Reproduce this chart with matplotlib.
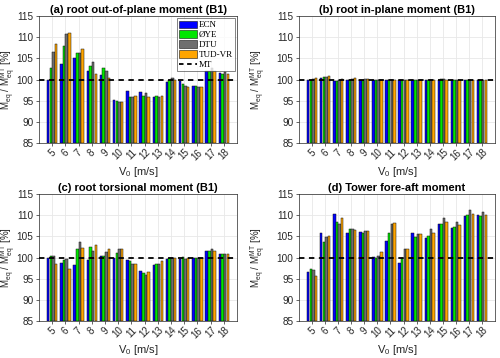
import matplotlib
matplotlib.use("Agg")
import matplotlib.pyplot as plt
import numpy as np
from matplotlib.lines import Line2D
from matplotlib.patches import Patch

plt.rcParams['font.family'] = ['Liberation Sans', 'DejaVu Sans']
plt.rcParams['mathtext.fontset'] = 'custom'
plt.rcParams['mathtext.rm'] = 'Liberation Sans'

wind_speeds = [5, 6, 7, 8, 9, 10, 11, 12, 13, 14, 15, 16, 17, 18]
codes = ['ECN', 'ØYE', 'DTU', 'TUD-VR']
colors = ['#0000ff', '#00e600', '#6e6e6e', '#ffa500']

oop_ecn = [100.0, 103.6, 105.0, 102.0, 101.0, 95.2, 97.3, 97.1, 95.8, 99.4, 99.6, 98.4, 102.0, 101.5]
oop_oye = [102.6, 107.8, 106.3, 103.2, 102.6, 94.9, 95.8, 96.0, 96.0, 100.0, 99.0, 98.4, 102.1, 101.4]
oop_dtu = [106.4, 110.7, 106.3, 104.2, 101.9, 94.6, 95.8, 96.8, 95.9, 100.3, 98.5, 98.3, 102.6, 101.7]
oop_tud = [108.5, 110.9, 107.2, 101.4, 100.3, 94.8, 96.0, 95.9, 96.2, 99.8, 98.2, 98.2, 102.0, 101.3]

ip_ecn = [99.9, 100.3, 99.6, 100.0, 100.0, 100.0, 99.9, 99.9, 99.8, 99.9, 100.0, 99.9, 99.9, 99.9]
ip_oye = [100.0, 100.5, 99.7, 100.0, 100.0, 100.0, 99.9, 99.9, 99.8, 99.8, 100.1, 99.9, 99.9, 99.9]
ip_dtu = [100.1, 100.5, 100.0, 100.1, 100.2, 100.0, 100.0, 99.9, 99.9, 99.9, 100.1, 99.9, 100.0, 100.0]
ip_tud = [100.3, 100.8, 100.2, 100.3, 100.2, 100.0, 100.0, 99.9, 99.8, 99.8, 100.0, 99.9, 99.9, 99.9]

tor_ecn = [100.0, 98.8, 98.3, 99.5, 100.3, 100.0, 99.5, 96.7, 98.2, 99.6, 99.7, 99.8, 101.6, 100.9]
tor_oye = [100.4, 99.5, 102.0, 102.5, 100.3, 101.0, 99.1, 96.3, 98.4, 99.9, 100.1, 99.9, 101.6, 100.9]
tor_dtu = [100.4, 99.6, 103.7, 101.6, 101.4, 102.0, 98.4, 95.9, 98.4, 99.9, 99.6, 100.0, 101.9, 100.9]
tor_tud = [98.5, 97.3, 102.3, 102.9, 102.1, 102.0, 98.5, 96.6, 99.1, 99.8, 99.8, 99.8, 101.6, 100.9]

tow_ecn = [96.6, 105.7, 110.2, 105.9, 106.0, 100.1, 103.8, 98.8, 105.7, 104.7, 107.8, 107.0, 109.7, 110.0]
tow_oye = [97.2, 103.6, 108.5, 106.8, 105.9, 100.0, 105.7, 100.0, 104.9, 105.1, 107.9, 107.2, 110.0, 109.8]
tow_dtu = [97.0, 104.8, 108.0, 106.8, 106.2, 100.3, 108.0, 102.0, 105.6, 106.8, 109.4, 108.4, 111.2, 110.8]
tow_tud = [95.7, 105.0, 109.3, 106.4, 106.2, 101.3, 108.1, 102.1, 105.6, 105.8, 108.4, 107.6, 110.3, 110.0]

panels = [
    ('(a) root out-of-plane moment (B1)', [oop_ecn, oop_oye, oop_dtu, oop_tud]),
    ('(b) root in-plane moment (B1)', [ip_ecn, ip_oye, ip_dtu, ip_tud]),
    ('(c) root torsional moment (B1)', [tor_ecn, tor_oye, tor_dtu, tor_tud]),
    ('(d) Tower fore-aft moment', [tow_ecn, tow_oye, tow_dtu, tow_tud]),
]

W, H = 500, 358
fig = plt.figure(figsize=(5.0, 3.58), dpi=100)
rects = [
    (39, 16, 198, 127),
    (299, 16, 196, 127),
    (39, 194, 198, 127),
    (299, 194, 196, 127),
]
ylab_x = [18, 268, 18, 268]
x = np.array(wind_speeds, dtype=float)
bw = 0.19
offs = [-0.3, -0.1, 0.1, 0.3]
tc = '#262626'
for k, ((title, series), (l, t, w, h)) in enumerate(zip(panels, rects)):
    ax = fig.add_axes([l / W, 1 - (t + h) / H, w / W, h / H])
    ax.set_axisbelow(True)
    ax.grid(True, color='#e8e8e8', linewidth=0.6)
    for i, s in enumerate(series):
        ax.bar(x + offs[i], np.array(s) - 85, bottom=85, width=bw, color=colors[i],
               edgecolor='#111111', linewidth=0.35, zorder=2)
    ax.axhline(100, color='black', linestyle='--', linewidth=1.3, dashes=(3, 2.5), zorder=3)
    ax.set_xlim(4, 19)
    ax.set_ylim(85, 115)
    ax.set_yticks([85, 90, 95, 100, 105, 110, 115])
    ax.set_xticks(wind_speeds)
    ax.set_xticklabels([str(v) for v in wind_speeds], rotation=45, fontsize=7, color=tc)
    ax.tick_params(axis='y', labelsize=7.2, colors=tc, length=2, width=0.5, pad=2)
    ax.tick_params(axis='x', length=2, width=0.5, colors=tc, pad=1)
    for sp in ax.spines.values():
        sp.set_color('#262626')
        sp.set_linewidth(0.5)
    ax.set_title(title, fontsize=8, fontweight='bold', pad=2, color='black')
    ax.set_xlabel(r'V$_0$ [m/s]', fontsize=8, color=tc, labelpad=2)
    ax.set_ylabel(r'M$_{\rm eq}$ / M$_{\rm eq}^{\rm MT}$ [%]', fontsize=7, color=tc)
    ax.yaxis.set_label_coords((ylab_x[k] - l) / w, 0.5)
    if k == 0:
        handles = [Patch(facecolor=c, edgecolor='#111111', linewidth=0.4) for c in colors]
        handles.append(Line2D([0], [0], color='black', linestyle='--', linewidth=1.3, dashes=(2.5, 2)))
        leg = ax.legend(handles, codes + ['MT'], loc='upper right',
                        prop={'family': 'Liberation Serif', 'size': 6.5},
                        frameon=True, fancybox=False, edgecolor='#262626',
                        handlelength=2.0, handleheight=0.9, labelspacing=0.12,
                        handletextpad=0.15, borderpad=0.25, borderaxespad=0.25)
        leg.get_frame().set_linewidth(0.5)

fig.savefig('out.png', dpi=100, facecolor='white')
